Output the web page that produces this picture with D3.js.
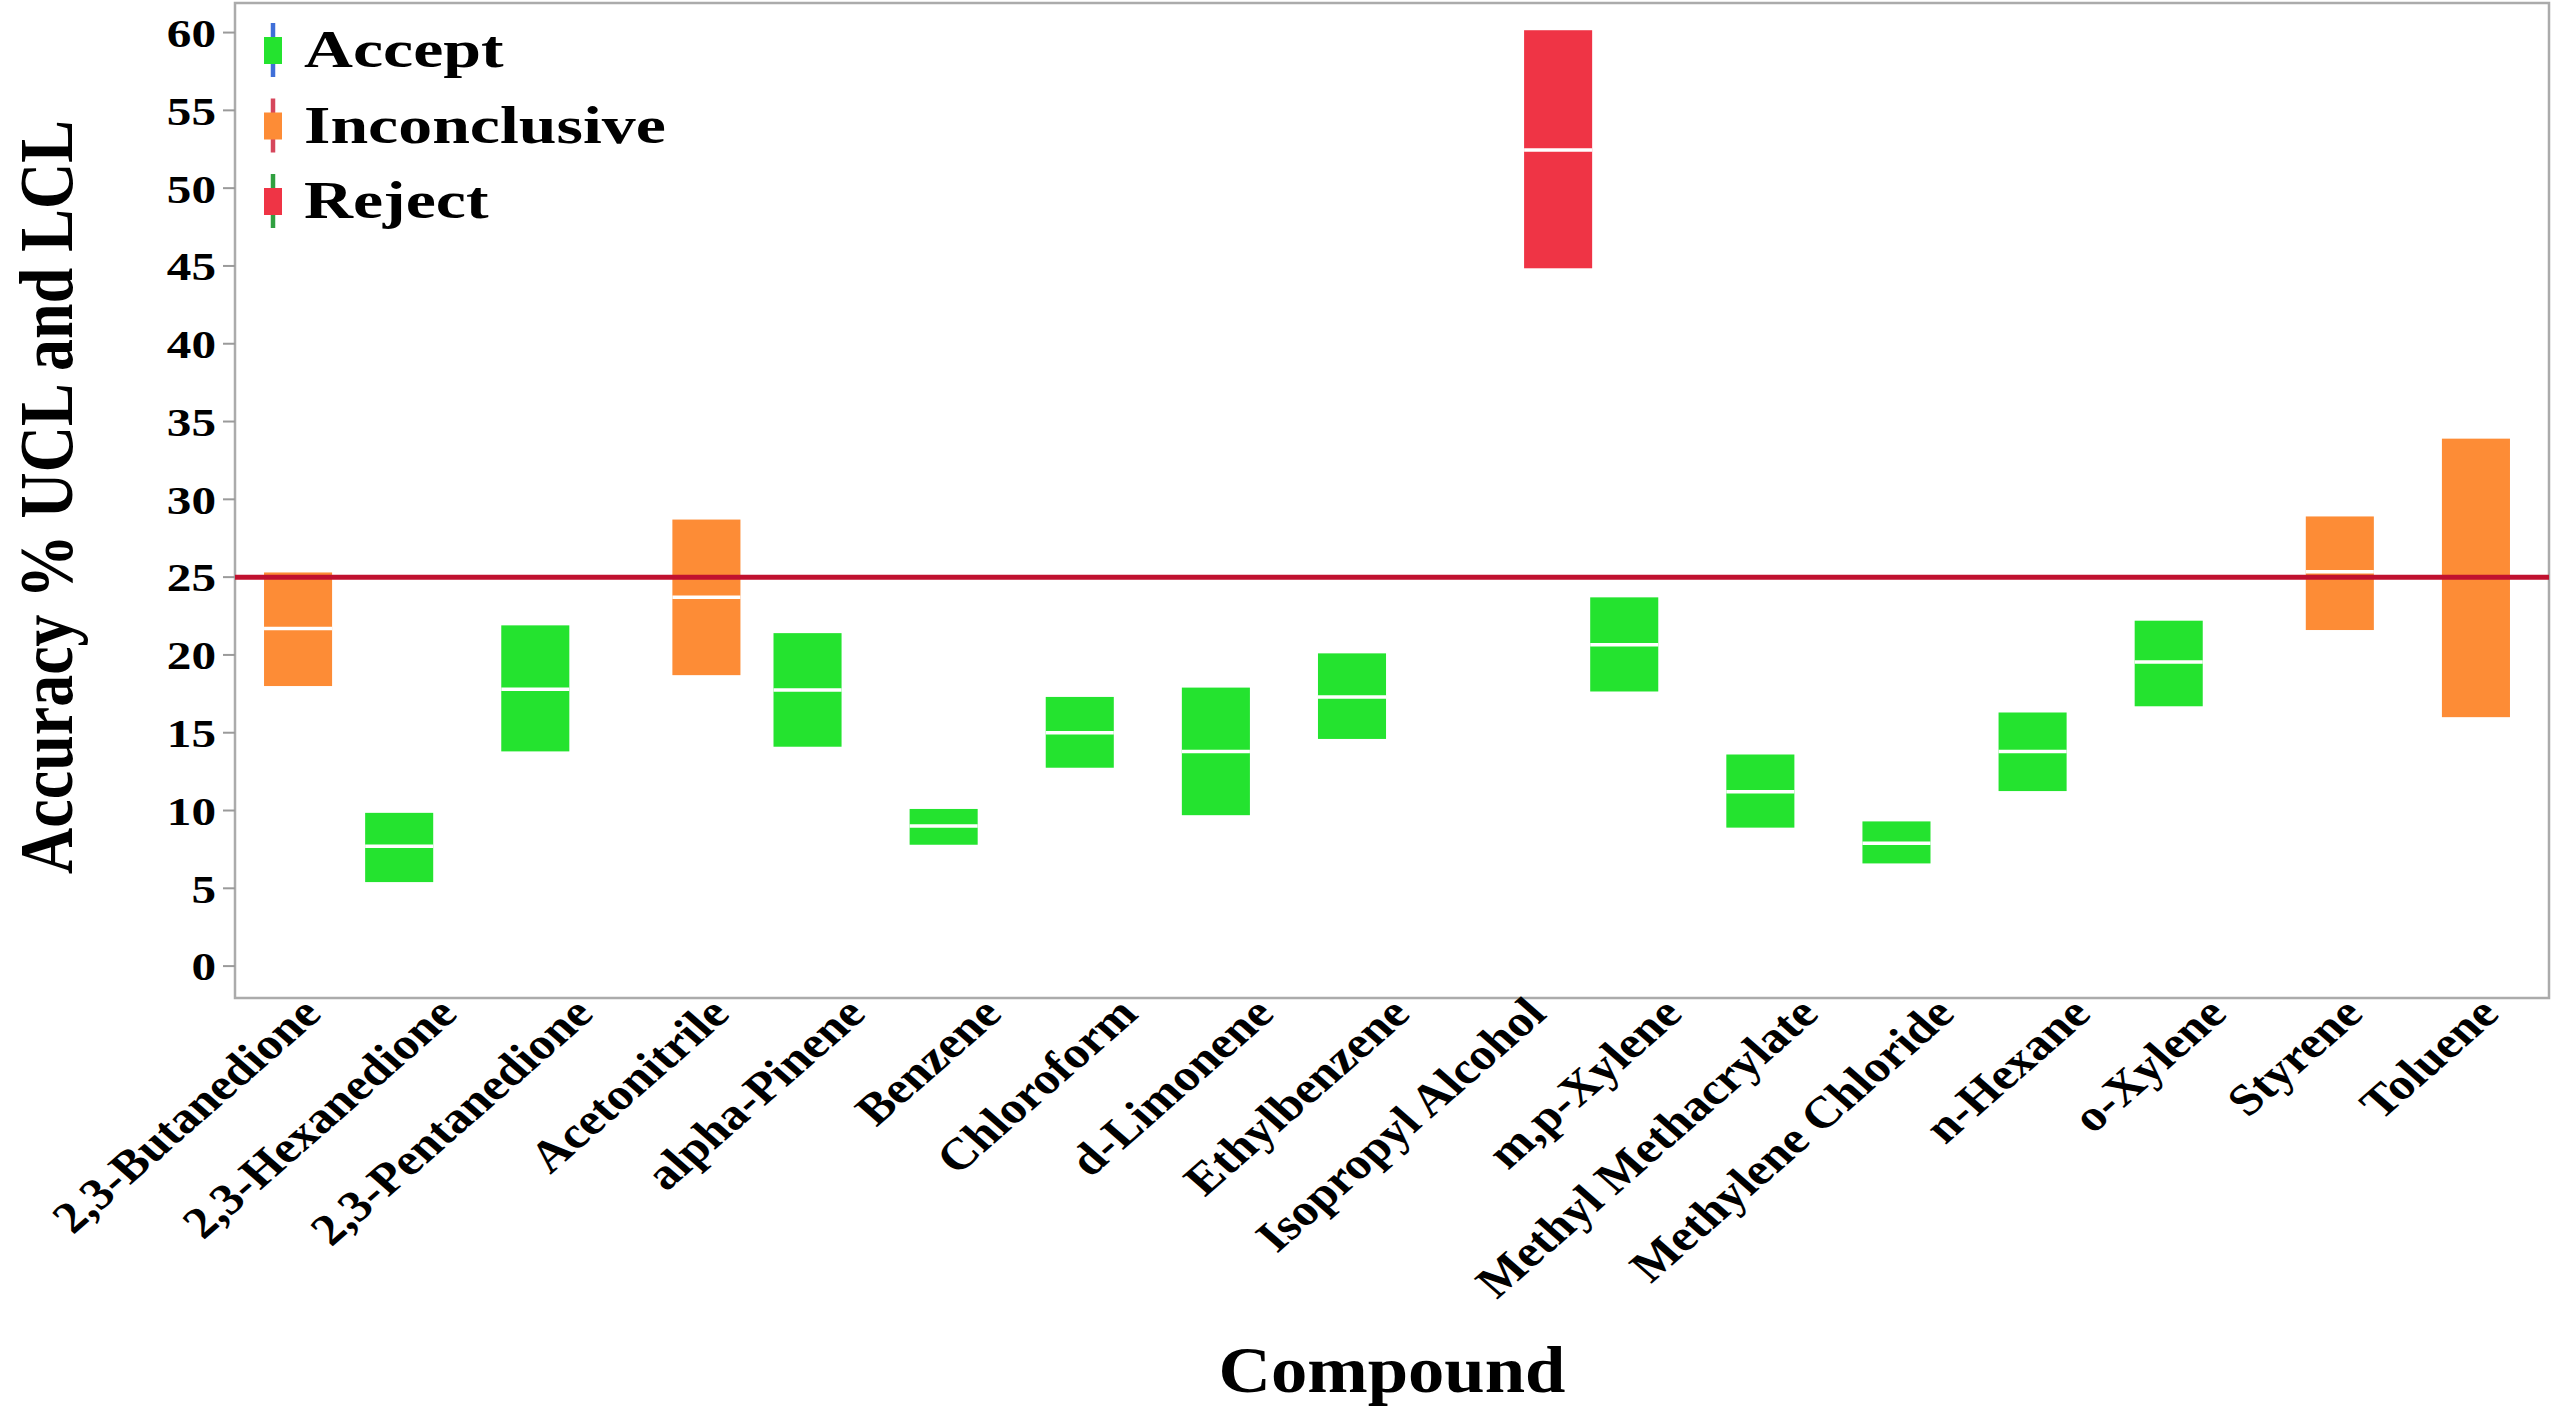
<!DOCTYPE html>
<html>
<head>
<meta charset="utf-8">
<script src="https://cdn.jsdelivr.net/npm/d3@7"></script>
<style>
  html, body { margin: 0; padding: 0; background: #ffffff; }
  svg { display: block; }
  text { font-family: "Liberation Serif", "Times New Roman", serif; font-weight: bold; fill: #000; }
</style>
</head>
<body>
<svg id="chart" width="2552" height="1408"></svg>
<script>
// Compounds on the x axis, in plotting order
const compounds = [
  "2,3-Butanedione", "2,3-Hexanedione", "2,3-Pentanedione", "Acetonitrile",
  "alpha-Pinene", "Benzene", "Chloroform", "d-Limonene", "Ethylbenzene",
  "Isopropyl Alcohol", "m,p-Xylene", "Methyl Methacrylate", "Methylene Chloride",
  "n-Hexane", "o-Xylene", "Styrene", "Toluene"
];

// Decision for each compound
const decision = [
  "Inconclusive", "Accept", "Accept", "Inconclusive",
  "Accept", "Accept", "Accept", "Accept", "Accept",
  "Reject", "Accept", "Accept", "Accept",
  "Accept", "Accept", "Inconclusive", "Inconclusive"
];

// Upper confidence limit, mean and lower confidence limit of accuracy (%)
const ucl  = [25.3, 9.85, 21.9, 28.7, 21.4, 10.1, 17.3, 17.9, 20.1, 60.15, 23.7, 13.6, 9.3, 16.3, 22.2, 28.9, 33.9];
const mean = [21.7, 7.7, 17.8, 23.7, 17.75, 9.0, 15.0, 13.8, 17.3, 52.45, 20.65, 11.2, 7.9, 13.8, 19.55, 25.35, 25.0];
const lcl  = [18.0, 5.4, 13.8, 18.7, 14.1, 7.8, 12.75, 9.7, 14.6, 44.85, 17.65, 8.9, 6.6, 11.25, 16.7, 21.6, 16.0];

// Legend levels and the acceptance limit
const levels = ["Accept", "Inconclusive", "Reject"];
const yTicks = [0, 5, 10, 15, 20, 25, 30, 35, 40, 45, 50, 55, 60];
const limit = 25;

const boxColor  = { Accept: "#24e32f", Inconclusive: "#fd8c36", Reject: "#ef3445" };
const lineColor = { Accept: "#3f6fd8", Inconclusive: "#d6475c", Reject: "#30a040" };

const svg = d3.select("#chart");
const plot = { left: 235, right: 2549, top: 3, bottom: 998 };

const x = d3.scaleBand().domain(compounds).range([plot.left, plot.right]);
const slot = d3.scaleBand().domain(levels).range([-57.5, 47.5]);
const y = d3.scaleLinear().domain([-2.05, 61.9]).range([plot.bottom, plot.top]);

const barW = x.bandwidth() * 0.5;
const rows = compounds.map((c, i) => ({
  c, s: decision[i], hi: ucl[i], mid: mean[i], lo: lcl[i],
  cx: x(c) + x.bandwidth() / 2 + slot(decision[i]) + slot.bandwidth() / 2
}));

// Frame
svg.append("rect")
  .attr("x", plot.left).attr("y", plot.top)
  .attr("width", plot.right - plot.left).attr("height", plot.bottom - plot.top)
  .attr("fill", "#fff").attr("stroke", "#ababab").attr("stroke-width", 2.5);

// Y axis ticks and labels
const yAxis = svg.append("g");
yAxis.selectAll("line").data(yTicks).join("line")
  .attr("x1", plot.left - 12).attr("x2", plot.left)
  .attr("y1", d => y(d)).attr("y2", d => y(d))
  .attr("stroke", "#9a9a9a").attr("stroke-width", 2);
yAxis.selectAll("text").data(yTicks).join("text")
  .attr("transform", d => `translate(216,${y(d)}) scale(1.2,1)`)
  .attr("dy", "0.35em")
  .attr("text-anchor", "end")
  .style("font-size", "41px")
  .text(d => d);

// Confidence interval boxes
const bars = svg.append("g");
bars.selectAll("rect").data(rows).join("rect")
  .attr("x", d => d.cx - barW / 2)
  .attr("width", barW)
  .attr("y", d => y(d.hi))
  .attr("height", d => y(d.lo) - y(d.hi))
  .attr("fill", d => boxColor[d.s]);

// Mean lines
bars.selectAll("line").data(rows).join("line")
  .attr("x1", d => d.cx - barW / 2).attr("x2", d => d.cx + barW / 2)
  .attr("y1", d => y(d.mid)).attr("y2", d => y(d.mid))
  .attr("stroke", "#ffffff").attr("stroke-width", 3.5);

// Acceptance limit
svg.append("line")
  .attr("x1", plot.left).attr("x2", plot.right)
  .attr("y1", y(limit)).attr("y2", y(limit))
  .attr("stroke", "#c0112f").attr("stroke-width", 5);

// X axis labels
svg.append("g").selectAll("text").data(compounds).join("text")
  .attr("transform", d => `translate(${x(d) + x.bandwidth() / 2 + 20},1016) scale(1.14,1) rotate(-45)`)
  .attr("text-anchor", "end")
  .style("font-size", "44.5px")
  .text(d => d);

// Axis titles
svg.append("text")
  .attr("transform", "translate(72,497) scale(1.2,1) rotate(-90)")
  .attr("text-anchor", "middle")
  .style("font-size", "64px")
  .text("Accuracy % UCL and LCL");

svg.append("text")
  .attr("transform", `translate(${(plot.left + plot.right) / 2},1392) scale(1.1,1)`)
  .attr("text-anchor", "middle")
  .style("font-size", "66px")
  .text("Compound");

// Legend
const legend = svg.append("g").selectAll("g").data(levels).join("g")
  .attr("transform", (d, i) => `translate(0,${67 + i * 75.5})`);
legend.append("line")
  .attr("x1", 273).attr("x2", 273).attr("y1", -44).attr("y2", 10)
  .attr("stroke", d => lineColor[d]).attr("stroke-width", 4.5);
legend.append("rect")
  .attr("x", 264).attr("y", -30).attr("width", 18).attr("height", 27)
  .attr("fill", d => boxColor[d]);
legend.append("text")
  .attr("transform", "translate(304,0) scale(1.28,1)")
  .style("font-size", "53px")
  .text(d => d);
</script>
</body>
</html>
